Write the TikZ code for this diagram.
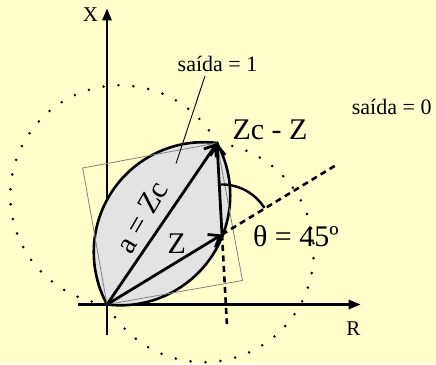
\documentclass[tikz,border=0pt]{standalone}
\usepackage{fontspec}
\setmainfont{Liberation Serif}
\usetikzlibrary{arrows.meta,calc}
\definecolor{yellowbg}{HTML}{FFFFCC}
\definecolor{lensgray}{HTML}{E3E3E3}
\definecolor{rectgray}{HTML}{808080}
\begin{document}
\begin{tikzpicture}[x=1pt,y=1pt,
  axis/.style={line width=2.6pt, -{Triangle[length=12pt,width=9pt]}},
  vec/.style={line width=2.8pt, -{Straight Barb[length=10pt,width=15pt]}},
  lensline/.style={line width=2.6pt, draw=black, fill=lensgray},
  dotline/.style={line width=2.8pt, line cap=round, dash pattern=on 0pt off 15pt},
  dashline/.style={line width=2.6pt, dash pattern=on 6pt off 4.5pt},
  thinrect/.style={line width=0.8pt, draw=rectgray},
  big/.style={font=\fontsize{30}{36}\selectfont, inner sep=0pt},
  mid/.style={font=\fontsize{22}{26}\selectfont, inner sep=0pt},
  small/.style={font=\fontsize{21}{25}\selectfont, inner sep=0pt}]
\fill[yellowbg] (0,0) rectangle (436,364);
\useasboundingbox (0,0) rectangle (436,364);
% key points
\coordinate (O) at (107,59.5);
\coordinate (Zc) at (217,221);
\coordinate (Z) at (222,129.5);
\coordinate (TL) at (82.7,196);
\coordinate (BR) at (242.5,83.5);
\coordinate (xs) at (107,29);
\coordinate (xe) at (107,355.7);
\coordinate (rs) at (78.3,59.5);
\coordinate (re) at (360.7,59.5);
% axes
\draw[axis] (xs) -- (xe);
\draw[axis] (rs) -- (re);
% dotted outer boundary
\draw[dotline] (Zc) arc[start angle=28.4, end angle=263.1, radius=110];
\draw[dotline] (O) arc[start angle=208.4, end angle=443.1, radius=110];
% lens
\path[lensline] (O) arc[start angle=-96.9, end angle=28.4, radius=110]
  arc[start angle=83.1, end angle=208.4, radius=110] -- cycle;
% thin rectangle
\draw[thinrect] (O) -- (BR) -- (Zc) -- (TL) -- cycle;
% dashed extensions
\draw[dashline] (Z) -- ($(Z)!-0.98!(Zc)$);
\draw[dashline] (Z) -- ($(O)!2!(Z)$);
% angle arc
\draw[line width=2.4pt] ($(Z)+(32:50)$) arc[start angle=32, end angle=92, radius=50];
% vectors
\draw[vec] (O) -- (Zc);
\draw[vec] (O) -- (Z);
\draw[vec] (Z) -- (Zc);
% labels
\node[small] (xl) at (90.5,349.5) {X};
\node[small] (rl) at (353.3,35) {R};
\node[mid, anchor=base] (s1) at (217.5,292.3) {saída = 1};
\node[mid, anchor=base] (s0) at (391.7,249) {saída = 0};
\node[big, anchor=base] (lzcz) at (270,224) {Zc - Z};
\node[big, anchor=base] (lth) at (295.8,117.3) {θ = 45º};
\node[big, anchor=base] (lz) at (176.7,110.7) {Z};
\node[big, rotate=60] (lzc) at (142,147) {a = Zc};
% pointer
\coordinate (p1) at (205,288);
\coordinate (p2) at (176,200.5);
\draw[line width=0.9pt] (p1) -- (p2);
\end{tikzpicture}
\end{document}
